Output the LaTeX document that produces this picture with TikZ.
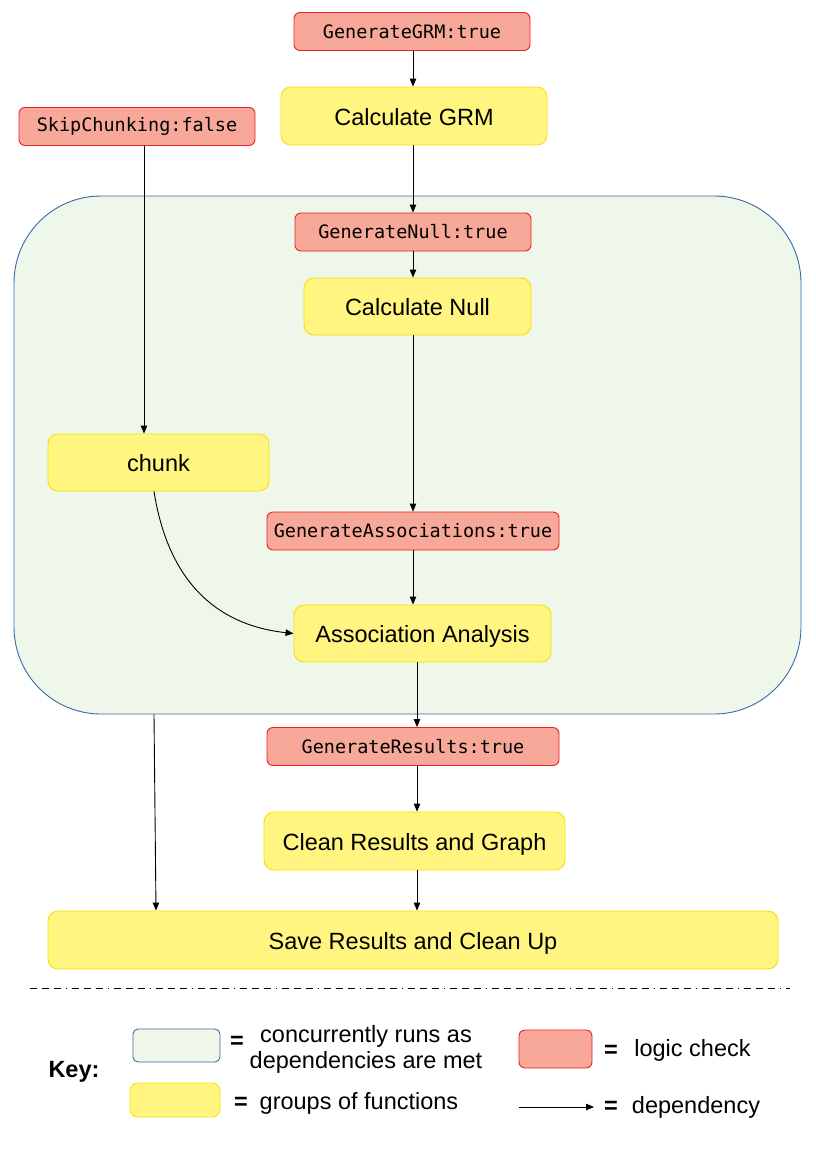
\documentclass[tikz,border=0pt]{standalone}
\usepackage{fontspec}
\setmainfont{Liberation Sans}
\newfontfamily\monof{DejaVu Sans Mono}
\usetikzlibrary{arrows.meta}
\definecolor{redfill}{HTML}{F7A898}
\definecolor{redline}{HTML}{E8212A}
\definecolor{yelfill}{HTML}{FFF580}
\definecolor{yelline}{HTML}{F2E300}
\definecolor{grnfill}{HTML}{EFF6EA}
\definecolor{grnline}{HTML}{3A6AAA}
\begin{document}
\begin{tikzpicture}[x=1pt,y=-1pt,
  logic/.style={draw=redline, fill=redfill, rounded corners=6pt, line width=0.9pt,
    minimum height=38pt, inner sep=0pt, font=\monof\fontsize{18.5}{22}\selectfont},
  func/.style={draw=yelline, fill=yelfill, rounded corners=10pt, line width=0.9pt,
    minimum height=57pt, inner sep=0pt, text height=18pt, text depth=0pt,
    font=\fontsize{23.5}{28}\selectfont},
  conc/.style={draw=grnline, fill=grnfill, line width=0.9pt, inner sep=0pt},
  keytxt/.style={inner sep=0pt, font=\fontsize{23.5}{26}\selectfont},
  keyeq/.style={inner sep=0pt, font=\bfseries\fontsize{23.5}{26}\selectfont},
  dep/.style={-{Triangle[length=8pt,width=6.5pt]}, line width=0.9pt}]
\useasboundingbox (0,0) rectangle (816,1154);
\fill[white] (0,0) rectangle (816,1154);

% column coordinates
\coordinate (colA) at (413,0);
\coordinate (colB) at (417,0);
\coordinate (colS) at (144,0);
\coordinate (colC) at (154,0);
\coordinate (colD) at (156,0);

% container
\node[conc, rounded corners=87pt, minimum width=787pt, minimum height=518pt] (group) at (407.5,455) {};

% nodes
\node[logic, minimum width=236pt] (ggrm) at (412,31.5) {GenerateGRM:true};
\node[func, minimum width=266pt, minimum height=58pt] (cgrm) at (414,116) {Calculate GRM};
\node[logic, minimum width=236pt] (skip) at (137,126.5) {SkipChunking:false};
\node[logic, minimum width=236pt] (gnull) at (413,232) {GenerateNull:true};
\node[func, minimum width=227pt] (cnull) at (417.5,306.5) {Calculate Null};
\node[func, minimum width=221pt] (chunk) at (158.5,462.5) {chunk};
\node[logic, minimum width=292pt] (gassoc) at (413,531) {GenerateAssociations:true};
\node[func, minimum width=257pt] (aa) at (422.5,633.5) {Association Analysis};
\node[logic, minimum width=292pt] (gres) at (413,746.5) {GenerateResults:true};
\node[func, minimum width=301pt, minimum height=58pt] (clean) at (414.5,841) {Clean Results and Graph};
\node[func, minimum width=730pt, minimum height=58pt] (save) at (413,940) {Save Results and Clean Up};

% connectors
\draw[dep] (ggrm.south -| colA) -- (cgrm.north -| colA);
\draw[dep] (cgrm.south -| colA) -- (gnull.north -| colA);
\draw[dep] (gnull.south -| colA) -- (cnull.north -| colA);
\draw[dep] (cnull.south -| colA) -- (gassoc.north -| colA);
\draw[dep] (gassoc.south -| colA) -- (aa.north -| colA);
\draw[dep] (skip.south -| colS) -- (chunk.north -| colS);
\draw[dep] (chunk.south -| colC) .. controls (168,580) and (215,625) .. (aa.west);
\draw[dep] (aa.south -| colB) -- (gres.north -| colB);
\draw[dep] (gres.south -| colB) -- (clean.north -| colB);
\draw[dep] (clean.south -| colB) -- (save.north -| colB);
\draw[dep] (group.south -| colC) -- (save.north -| colD);

% separator
\draw[line width=0.8pt, dash pattern=on 7pt off 5pt on 7pt off 5pt on 7pt off 5pt on 1pt off 5pt]
  (30,988) -- (790,988);

% key
\node[keytxt, font=\bfseries\fontsize{23.5}{26}\selectfont] (keylbl) at (74,1072) {Key:};
\node[conc, rounded corners=5pt, minimum width=87pt, minimum height=33pt] (kgrn) at (176.5,1045.5) {};
\node[keyeq] (keq1) at (237,1042) {=};
\node[keytxt, align=center] (kt1) at (366,1049) {concurrently runs as\\dependencies are met};
\node[draw=yelline, fill=yelfill, rounded corners=8pt, line width=0.9pt, minimum width=90pt, minimum height=34pt] (kyel) at (175,1100) {};
\node[keyeq] (keq2) at (241,1103) {=};
\node[keytxt] (kt2) at (359,1103) {groups of functions};
\node[logic, minimum width=73pt] (kred) at (555.5,1049) {};
\node[keyeq] (keq3) at (611,1051) {=};
\node[keytxt] (kt3) at (692.5,1050) {logic check};
\coordinate (ka1) at (519,1107);
\coordinate (ka2) at (594,1107);
\draw[dep, line width=0.8pt] (ka1) -- (ka2);
\node[keyeq] (keq4) at (611,1107) {=};
\node[keytxt] (kt4) at (696,1107) {dependency};
\end{tikzpicture}
\end{document}
